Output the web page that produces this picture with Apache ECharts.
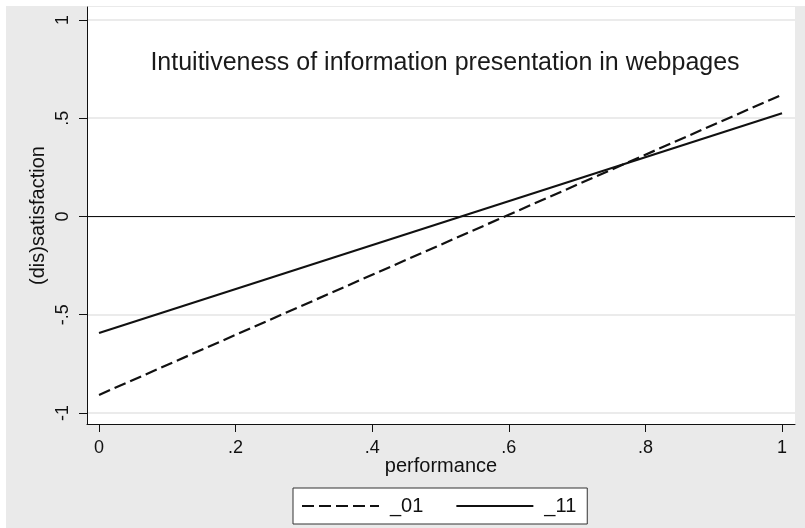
<!DOCTYPE html>
<html>
<head>
<meta charset="utf-8">
<script src="https://cdn.jsdelivr.net/npm/echarts@6/dist/echarts.min.js"></script>
<style>
  html, body { margin: 0; padding: 0; background: #ffffff; }
  #chart { position: absolute; left: 6px; top: 6px; width: 799px; height: 522px; }
</style>
</head>
<body>
<div id="chart"></div>
<script>
// ---- data ----
const titleText = "Intuitiveness of information presentation in webpages";
const xName = "performance";
const yName = "(dis)satisfaction";
const seriesNames = ["_01", "_11"];
const xValues = [0, 1];
const values01 = [-0.908, 0.62];
const values11 = [-0.593, 0.525];
const xTicks = [0, 0.2, 0.4, 0.6, 0.8, 1];
const xTickLabels = ["0", ".2", ".4", ".6", ".8", "1"];
const yTicks = [-1, -0.5, 0, 0.5, 1];
const yTickLabels = ["-1", "-.5", "0", ".5", "1"];
const zeroLine = [0];

const font = "Liberation Sans, Arial, sans-serif";
const ink = "#111111";

function labelFor(ticks, labels) {
  return function (v) {
    for (let i = 0; i < ticks.length; i++) {
      if (Math.abs(ticks[i] - v) < 1e-6) return labels[i];
    }
    return "";
  };
}

const chart = echarts.init(document.getElementById("chart"), null, { renderer: "canvas" });
chart.setOption({
  animation: false,
  backgroundColor: "#eaeaea",
  textStyle: { fontFamily: font },
  title: {
    text: titleText,
    left: 434,
    top: 40,
    textAlign: "center",
    textStyle: { fontFamily: font, fontSize: 25, fontWeight: "normal", color: "#1a1a1a" }
  },
  grid: {
    left: 81, right: 10, top: 1, bottom: 104,
    show: true, backgroundColor: "#ffffff", borderWidth: 0
  },
  legend: {
    data: seriesNames,
    left: 287,
    top: 482,
    orient: "horizontal",
    padding: [8, 11, 8, 8],
    backgroundColor: "#ffffff",
    borderColor: "#333333",
    borderWidth: 1,
    borderRadius: 0,
    itemWidth: 77,
    itemHeight: 14,
    itemGap: 32,
    itemStyle: { color: "rgba(0,0,0,0)", opacity: 0, borderWidth: 0 },
    textStyle: { fontFamily: font, fontSize: 20, color: ink, padding: [0, 0, 0, 6] }
  },
  xAxis: {
    type: "value",
    min: -0.0176,
    max: 1.019,
    name: xName,
    nameLocation: "middle",
    nameGap: 32,
    nameMoveOverlap: false,
    nameTextStyle: { fontFamily: font, fontSize: 20, color: ink },
    axisLine: { show: true, onZero: false, lineStyle: { color: ink, width: 1 } },
    axisTick: { show: true, length: 8, customValues: xTicks, lineStyle: { color: ink } },
    axisLabel: { customValues: xTicks, formatter: labelFor(xTicks, xTickLabels), fontFamily: font, fontSize: 18, color: ink, margin: 15 },
    splitLine: { show: false }
  },
  yAxis: {
    type: "value",
    min: -1.056,
    max: 1.066,
    name: yName,
    nameLocation: "middle",
    nameGap: 39,
    nameMoveOverlap: false,
    nameTextStyle: { fontFamily: font, fontSize: 20, color: ink },
    axisLine: { show: true, onZero: false, lineStyle: { color: ink, width: 1 } },
    axisTick: { show: true, length: 8, customValues: yTicks, lineStyle: { color: ink } },
    axisLabel: { customValues: yTicks, formatter: labelFor(yTicks, yTickLabels), rotate: 90, fontFamily: font, fontSize: 18, color: ink, margin: 15 },
    splitLine: { show: true, lineStyle: { color: "#e4e4e4", width: 1.5 } }
  },
  series: [
    {
      name: seriesNames[0],
      type: "line",
      symbol: "none",
      showSymbol: false,
      z: 3,
      color: ink,
      lineStyle: { color: ink, width: 2.2, type: [12, 5] },
      data: xValues.map((x, i) => [x, values01[i]]),
      markLine: {
        silent: true,
        symbol: "none",
        label: { show: false },
        lineStyle: { color: ink, width: 1, type: "solid" },
        data: zeroLine.map(v => ({ yAxis: v }))
      }
    },
    {
      name: seriesNames[1],
      type: "line",
      symbol: "none",
      showSymbol: false,
      z: 3,
      color: ink,
      lineStyle: { color: ink, width: 2.2, type: "solid" },
      data: xValues.map((x, i) => [x, values11[i]])
    }
  ]
});
</script>
</body>
</html>
